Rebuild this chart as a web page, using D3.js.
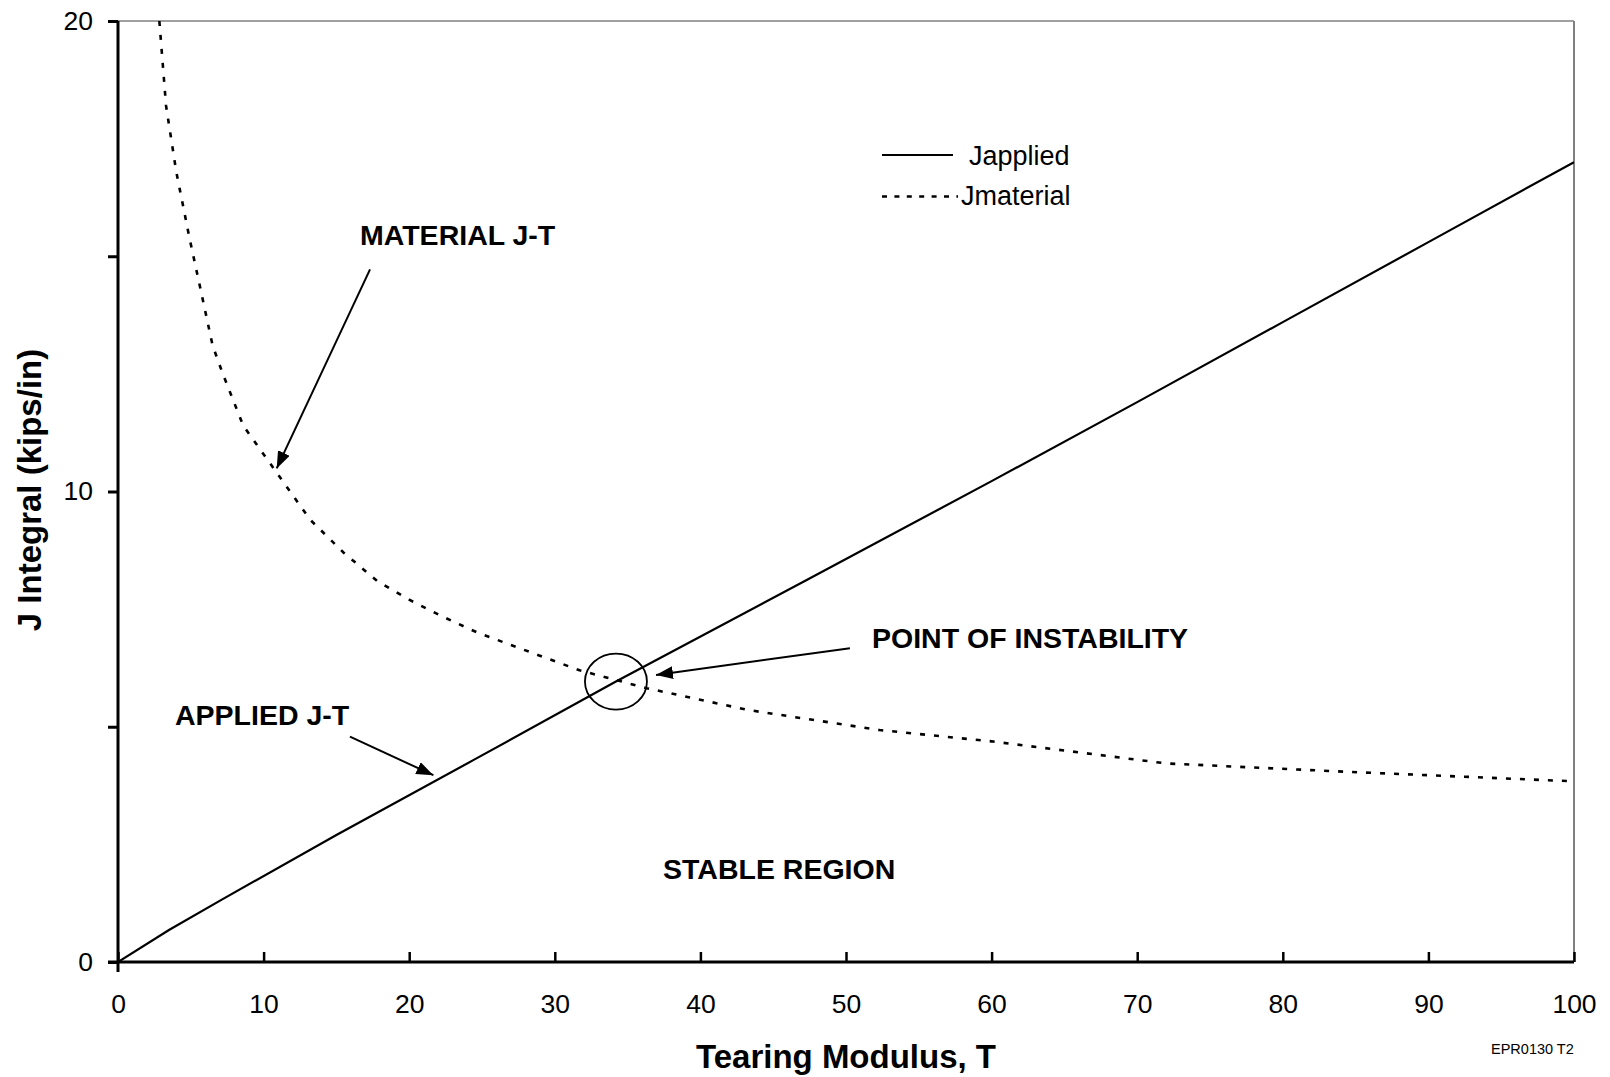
<!DOCTYPE html>
<html>
<head>
<meta charset="utf-8">
<script src="https://cdn.jsdelivr.net/npm/d3@7"></script>
<style>
  html, body { margin: 0; padding: 0; background: #fff; }
  svg { display: block; font-family: "Liberation Sans", Arial, sans-serif; }
</style>
</head>
<body>
<svg id="chart" width="1610" height="1077"></svg>
<script>
// ---- data ----
const appliedT = [0, 3.5, 7.1, 15, 24.4, 34.2, 47.3, 60, 70, 80, 90, 100];
const appliedJ = [0, 0.68, 1.32, 2.70, 4.29, 5.96, 8.12, 10.22, 11.9, 13.6, 15.3, 17.0];

const materialT = [2.84, 3.3, 4.0, 4.9, 5.6, 6.5, 7.2, 8.6, 10.9, 13.2, 15.5, 17.8, 20.0, 22.3, 24.7, 26.7, 31.7, 36.3, 43.2, 52.3, 60, 72, 84.6, 100];
const materialJ = [20.0, 18.2, 16.8, 15.4, 14.4, 13.1, 12.5, 11.4, 10.4, 9.4, 8.7, 8.1, 7.7, 7.34, 7.0, 6.77, 6.2, 5.82, 5.36, 4.93, 4.69, 4.22, 4.04, 3.84];

const xTicks = [0, 10, 20, 30, 40, 50, 60, 70, 80, 90, 100];
const yTicks = [0, 5, 10, 15, 20];
const yTickLabels = ["0", "", "10", "", "20"];

const seriesNames = ["Japplied", "Jmaterial"];
const xTitle = "Tearing Modulus, T";
const yTitle = "J Integral (kips/in)";

// ---- layout ----
const L = 118, R = 1574, T0 = 21, B = 962;
const svg = d3.select("#chart");
const x = d3.scaleLinear().domain([0, 100]).range([L, R]);
const y = d3.scaleLinear().domain([0, 20]).range([B, T0]);

// frame (top & right, gray)
svg.append("line").attr("x1", L).attr("x2", R).attr("y1", T0).attr("y2", T0)
  .attr("stroke", "#808080").attr("stroke-width", 1.5);
svg.append("line").attr("x1", R).attr("x2", R).attr("y1", T0).attr("y2", B)
  .attr("stroke", "#808080").attr("stroke-width", 2);

// y axis
const yAxis = d3.axisLeft(y).tickValues(yTicks)
  .tickFormat((d, i) => yTickLabels[i]).tickSize(10).tickPadding(15);
const gy = svg.append("g").attr("transform", `translate(${L},0)`).call(yAxis);
gy.select(".domain").remove();
gy.selectAll(".tick line").attr("stroke", "#000").attr("stroke-width", 3);
gy.selectAll(".tick text").attr("font-size", 26.5).attr("fill", "#000")
  .attr("font-family", "Liberation Sans, Arial, sans-serif");

// x axis
const xAxis = d3.axisBottom(x).tickValues(xTicks).tickSizeInner(-10).tickSizeOuter(0).tickPadding(32.5);
const gx = svg.append("g").attr("transform", `translate(0,${B})`).call(xAxis);
gx.select(".domain").remove();
gx.selectAll(".tick line").attr("stroke", "#000").attr("stroke-width", 2.5);
gx.selectAll(".tick text").attr("font-size", 26.5).attr("fill", "#000")
  .attr("font-family", "Liberation Sans, Arial, sans-serif");

// axis lines
svg.append("line").attr("x1", L).attr("x2", L).attr("y1", T0).attr("y2", B + 10)
  .attr("stroke", "#000").attr("stroke-width", 3);
svg.append("line").attr("x1", L - 10).attr("x2", R).attr("y1", B).attr("y2", B)
  .attr("stroke", "#000").attr("stroke-width", 3);

// clip
svg.append("clipPath").attr("id", "plotclip").append("rect")
  .attr("x", L).attr("y", T0).attr("width", R - L).attr("height", B - T0);

const line = d3.line().x(d => x(d[0])).y(d => y(d[1])).curve(d3.curveLinear);

svg.append("path").datum(d3.zip(materialT, materialJ))
  .attr("clip-path", "url(#plotclip)")
  .attr("d", line).attr("fill", "none").attr("stroke", "#000")
  .attr("stroke-width", 2.6).attr("stroke-dasharray", "5,9");

svg.append("path").datum(d3.zip(appliedT, appliedJ))
  .attr("clip-path", "url(#plotclip)")
  .attr("d", line).attr("fill", "none").attr("stroke", "#000")
  .attr("stroke-width", 2.2);

// legend
const lg = svg.append("g");
lg.append("line").attr("x1", 882).attr("x2", 953).attr("y1", 155).attr("y2", 155)
  .attr("stroke", "#000").attr("stroke-width", 2.2);
lg.append("text").attr("x", 969).attr("y", 165).attr("font-size", 27).text(seriesNames[0]);
lg.append("line").attr("x1", 882).attr("x2", 958).attr("y1", 196.5).attr("y2", 196.5)
  .attr("stroke", "#000").attr("stroke-width", 2.6).attr("stroke-dasharray", "5,7.4");
lg.append("text").attr("x", 961).attr("y", 205).attr("font-size", 27).text(seriesNames[1]);

// arrow marker
svg.append("defs").append("marker").attr("id", "arr")
  .attr("markerUnits", "userSpaceOnUse").attr("markerWidth", 18).attr("markerHeight", 14)
  .attr("refX", 17).attr("refY", 6.5).attr("orient", "auto")
  .append("path").attr("d", "M0,0 L17,6.5 L0,13 Z").attr("fill", "#000");

const arrows = [
  [17.31, 14.72, 10.9, 10.49],
  [15.93, 4.79, 21.66, 3.97],
  [50.27, 6.67, 36.95, 6.10]
];
arrows.forEach(a => {
  svg.append("line").attr("x1", x(a[0])).attr("y1", y(a[1]))
    .attr("x2", x(a[2])).attr("y2", y(a[3]))
    .attr("stroke", "#000").attr("stroke-width", 2).attr("marker-end", "url(#arr)");
});

// circle at point of instability
svg.append("ellipse").attr("cx", x(34.2)).attr("cy", y(5.96))
  .attr("rx", 31).attr("ry", 28).attr("fill", "none")
  .attr("stroke", "#000").attr("stroke-width", 1.8);

// annotation labels
const labels = [
  ["MATERIAL J-T", 360, 245],
  ["APPLIED J-T", 175, 725],
  ["POINT OF INSTABILITY", 872, 648],
  ["STABLE REGION", 663, 879]
];
labels.forEach(l => {
  svg.append("text").attr("x", l[1]).attr("y", l[2]).attr("font-size", 28.5)
    .attr("font-weight", "bold").text(l[0]);
});

// axis titles
svg.append("text").attr("x", 846).attr("y", 1068).attr("text-anchor", "middle")
  .attr("font-size", 33).attr("font-weight", "bold").text(xTitle);
svg.append("text").attr("transform", "translate(40.5,490) rotate(-90)")
  .attr("text-anchor", "middle").attr("font-size", 33).attr("font-weight", "bold").text(yTitle);

// code label
svg.append("text").attr("x", 1491).attr("y", 1054).attr("font-size", 14.5).text("EPR0130 T2");
</script>
</body>
</html>
